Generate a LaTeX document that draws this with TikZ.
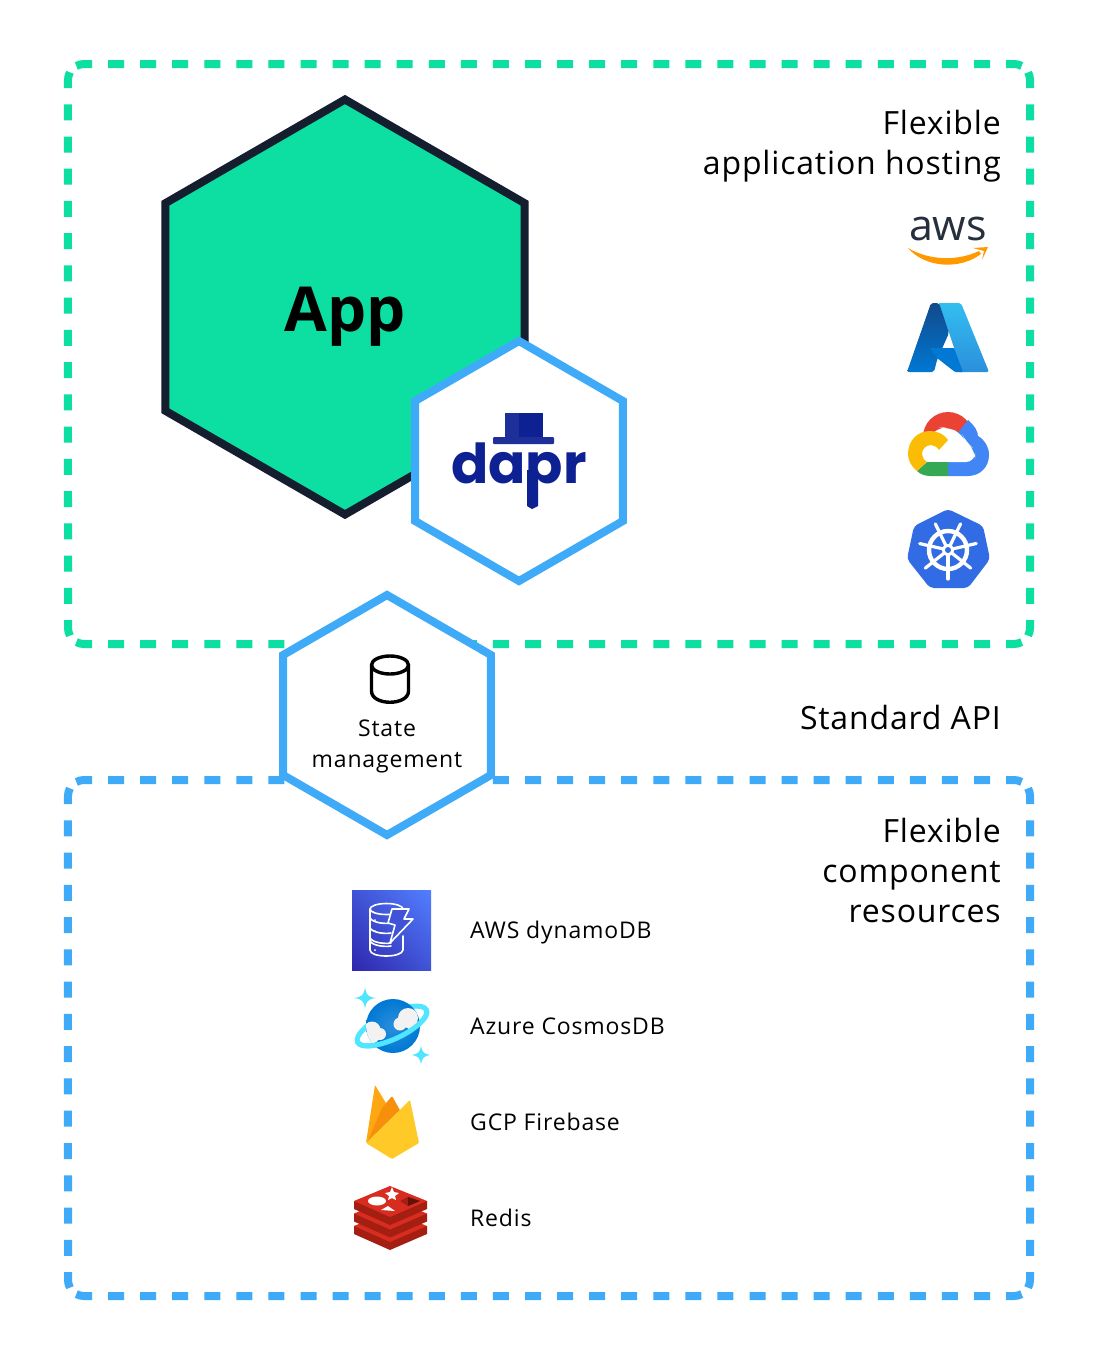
\documentclass[tikz,border=0pt]{standalone}
\usepackage{fontspec}
\usepackage{tikz}
\usetikzlibrary{shapes.geometric,shadings}
\setmainfont{Open Sans}
\newfontfamily\bigfont[LetterSpace=2.6]{Open Sans}
\newfontfamily\smallfont[LetterSpace=3.6]{Open Sans}
\newfontfamily\logofont{Poppins}

\definecolor{hostgreen}{HTML}{0DDFA2}
\definecolor{apiblue}{HTML}{3FAAF8}
\definecolor{appdark}{HTML}{141E2E}
\definecolor{daprblue}{HTML}{0D2192}
\definecolor{daprlight}{HTML}{1F2F9A}
\definecolor{awsdark}{HTML}{252F3E}
\definecolor{awsorange}{HTML}{FF9900}
\definecolor{gcpred}{HTML}{EA4335}
\definecolor{gcpblue}{HTML}{4285F4}
\definecolor{gcpyellow}{HTML}{FBBC05}
\definecolor{gcpgreen}{HTML}{34A853}
\definecolor{kubeblue}{HTML}{326CE5}
\definecolor{cosmoscyan}{HTML}{50E6FF}
\definecolor{cloudwhite}{HTML}{F2F2F2}
\definecolor{redisred}{HTML}{D82C20}
\definecolor{redisdark}{HTML}{A41E11}
\definecolor{azurelight}{HTML}{32BEF0}
\definecolor{azuresky}{HTML}{2B8FDC}
\definecolor{azuredark}{HTML}{114A8B}
\definecolor{azuremid}{HTML}{0078D4}
\definecolor{dynlow}{HTML}{2E27AD}
\definecolor{dynhigh}{HTML}{527FFF}
\definecolor{dynmid}{HTML}{4053D6}
\definecolor{fireamber}{HTML}{FFA712}
\definecolor{fireorange}{HTML}{F68F0B}
\definecolor{fireyellow}{HTML}{FFCA28}

\tikzset{
	hexnode/.style={shape=regular polygon,regular polygon sides=6,regular polygon rotate=30,inner sep=0pt,outer sep=0pt,line width=8pt},
	bigtext/.style={align=right,anchor=north east,inner sep=0pt,font=\bigfont\fontsize{32}{40}\selectfont,text=black},
	smalltext/.style={anchor=base west,inner sep=0pt,font=\smallfont\fontsize{23}{32}\selectfont,text=black},
}

% colour, top, bottom, gap along top and bottom, gap along the sides
\newcommand{\frameedges}[5]{
	\begin{scope}[draw=#1,line width=8pt]
		\draw[dash pattern=on 16pt off #4pt] (76.34,#2+1.95) arc[start angle=241.4,end angle=270,radius=16] -- (1014,#2) arc[start angle=270,end angle=298.6,radius=16];
		\draw[dash pattern=on 16pt off #4pt] (76.34,#3-1.95) arc[start angle=118.6,end angle=90,radius=16] -- (1014,#3) arc[start angle=90,end angle=61.4,radius=16];
		\draw[dash pattern=on 16pt off #5pt] (69.95,#2+8.34) arc[start angle=208.6,end angle=180,radius=16] -- (68,#3-16) arc[start angle=180,end angle=151.4,radius=16];
		\draw[dash pattern=on 16pt off #5pt] (1028.05,#2+8.34) arc[start angle=331.4,end angle=360,radius=16] -- (1030,#3-16) arc[start angle=0,end angle=28.6,radius=16];
	\end{scope}
}

\begin{document}
\begin{tikzpicture}[x=1pt,y=-1pt]
	\useasboundingbox (0,0) rectangle (1098,1358);
	\fill[white] (0,0) rectangle (1098,1358);

	\frameedges{hostgreen}{64}{644}{16.07}{16.235}
	\frameedges{apiblue}{780}{1296}{16.07}{16.27}

	\node[hexnode,draw=appdark,fill=hostgreen,minimum size=415pt] (AppHex) at (345,307){};
	\node[font=\bfseries\fontsize{62}{62}\selectfont,text=black] (AppText) at (345,317){App};
	\node[hexnode,draw=apiblue,fill=white,minimum size=240pt] (DaprHex) at (519,461){};
	\node[hexnode,draw=apiblue,fill=white,minimum size=240pt] (StateHex) at (387,715){};

	% dapr logo
	\node[anchor=base,inner sep=0pt,text=daprblue,font=\logofont\bfseries\fontsize{55}{55}\selectfont] (DaprWord) at (519,483){dapr};
	\fill[daprblue] (527,470) -- (538,470) -- (538,506) -- (532,509) -- (527,506) -- cycle;
	\fill[daprblue] (519,413) rectangle (543,438);
	\fill[daprlight] (505,413) rectangle (519,438);
	\fill[daprlight,rounded corners=1pt] (493,437) rectangle (554,444);

	% state store icon
	\draw[black,line width=3.4pt] (371.5,665) arc[start angle=180,end angle=-180,x radius=18.5,y radius=9] -- (371.5,691)
		.. controls (371.5,706) and (408.5,706) .. (408.5,691) -- (408.5,665);
	\node[align=center,font=\smallfont\fontsize{23}{31}\selectfont,text=black] (StateText) at (387,746){State\\management};

	\node[bigtext] (HostText) at (1001,110){Flexible\\application hosting};
	\node[bigtext,anchor=east] (ApiText) at (1001,717){Standard API};
	\node[bigtext] (ResText) at (1001,818){Flexible\\component\\resources};

	% aws
	\node[inner sep=0pt,text=awsdark,font=\fontsize{43}{43}\selectfont,anchor=base] (AwsWord) at (948,240){aws};
	\fill[awsorange] (908,248) .. controls (930,261) and (958,261) .. (979,251) -- (981,254) .. controls (960,270) and (925,268) .. cycle;
	\fill[awsorange] (973,248) -- (988,247) -- (982,260) -- (984,251) -- cycle;

	% azure
	\shade[top color=azurelight,bottom color=azuresky,rounded corners=2pt] (938,303) -- (961,303) -- (989,372) -- (957,372) -- (949,333) -- cycle;
	\fill[white] (949,333) -- (954,348) -- (930,348) -- (941,340) -- cycle;
	\shade[top color=azuredark,bottom color=azuremid,rounded corners=2pt] (931,303) -- (939,303) -- (949,333) -- (937,360) -- (934,372) -- (907,372) -- cycle;
	\fill[azuremid,rounded corners=1pt] (930,348) -- (954,348) -- (963,372) -- (955,372) -- (937,358) -- cycle;

	% gcp
	\fill[gcpred] (948,437) circle[radius=25];
	\fill[gcpblue] (968,420) .. controls (974,425) and (978,431) .. (978,436) .. controls (985,440) and (989,447) .. (989,455) .. controls (989,468) and (979,476) .. (968,476) -- (948,476) -- (948,445) -- cycle;
	\fill[white,rounded corners=9pt] (922,462) -- (922,445) -- (937,428) -- (948,427) -- (962,434) -- (966,442) -- (975,450) -- (975,462) -- cycle;
	\fill[gcpgreen] (917,471) -- (927,462) -- (948,462) -- (948,476) -- (930,476) .. controls (925,476) and (920,474) .. cycle;
	\fill[gcpyellow] (948,440) .. controls (944,434) and (937,431) .. (930,431) .. controls (917,431) and (908,441) .. (908,454) .. controls (908,461) and (912,467) .. (917,471) -- (927,462) .. controls (924,460) and (922,457) .. (922,454) .. controls (922,449) and (926,445) .. (931,445) .. controls (934,445) and (937,447) .. (939,450) -- cycle;

	% kubernetes
	\fill[kubeblue,rounded corners=4pt] (948,509) -- (983,526) -- (990,559) -- (968,588) -- (930,588) -- (907,559) -- (914,526) -- cycle;
	\draw[white,line width=4.4pt] (948,550) circle[radius=19];
	\foreach \ang in {90,141.4,192.8,244.2,295.6,347,38.6}
		\draw[white,line width=3.2pt,line cap=round] (948,550) -- ++(\ang:29);
	\fill[white] (948,550) circle[radius=6];
	\fill[kubeblue] (948,550) circle[radius=3];

	% dynamodb
	\shade[shading=bilinear interpolation,lower left=dynlow,lower right=dynmid,upper left=dynmid,upper right=dynhigh] (352,890) rectangle (431,970);
	\begin{scope}[white,line width=1.6pt,line cap=round,line join=round]
		\draw (370,909) arc[start angle=180,end angle=-180,x radius=16.5,y radius=5.5];
		\draw (370,909) -- (370,950) .. controls (370,958) and (402,958) .. (403,950) -- (403,936);
		\foreach \ypos in {918,928,938,941}
			\draw (370,\ypos) .. controls (373,\ypos+5) and (385,\ypos+6) .. (391,\ypos+5);
		\draw[fill=dynmid] (392,909) -- (409,909) -- (404,919) -- (413,919) -- (390,943) -- (395,925) -- (388,923) -- cycle;
		\fill (375,920) circle[radius=1] (375,931) circle[radius=1] (375,950) circle[radius=1];
	\end{scope}

	% cosmosdb
	\begin{scope}[shift={(392,1026)},rotate=25]
		\draw[cosmoscyan,line width=5pt] (0,0) ellipse[x radius=38,y radius=13];
	\end{scope}
	\shade[inner color=azuresky,outer color=azuremid] (393,1026) circle[radius=27];
	\begin{scope}
		\clip (393,1026) circle[radius=27];
		\fill[cloudwhite] (372,1030) circle[radius=8.5] (380,1034) circle[radius=6] (373,1037) circle[radius=6];
		\fill[cloudwhite] (408,1018) circle[radius=10] (400,1024) circle[radius=6.5] (412,1024) circle[radius=6];
	\end{scope}
	\begin{scope}[shift={(392,1026)},rotate=25]
		\draw[cosmoscyan,line width=5pt] (38,0) arc[start angle=0,end angle=180,x radius=38,y radius=13];
	\end{scope}
	\fill[cosmoscyan] (365,987) .. controls (366,995) and (368,997) .. (376,998) .. controls (368,999) and (366,1001) .. (365,1009) .. controls (364,1001) and (362,999) .. (354,998) .. controls (362,997) and (364,995) .. cycle;
	\fill[cosmoscyan] (421,1046) .. controls (422,1052) and (424,1054) .. (430,1055) .. controls (424,1056) and (422,1058) .. (421,1064) .. controls (420,1058) and (418,1056) .. (412,1055) .. controls (418,1054) and (420,1052) .. cycle;

	% firebase
	\fill[fireamber,rounded corners=1pt] (366,1143) -- (375,1085) -- (395,1118) -- cycle;
	\fill[fireorange,rounded corners=1pt] (367,1143) -- (382,1108) -- (392,1096) -- (401,1112) -- cycle;
	\fill[fireyellow,rounded corners=1pt] (366,1143) -- (410,1100) -- (419,1143) -- (392,1159) -- cycle;

	% redis
	\foreach \lift in {25,12.5,0}{
		\fill[redisdark] (354,1201+\lift) -- (354,1209+\lift) -- (390,1225+\lift) -- (427,1209+\lift) -- (427,1201+\lift) -- cycle;
		\fill[redisred] (390,1186+\lift) -- (427,1201+\lift) -- (390,1217+\lift) -- (354,1201+\lift) -- cycle;
	}
	\fill[white] (377,1201) ellipse[x radius=9,y radius=4.5];
	\fill[white] (388,1206) -- (395,1211) -- (381,1210) -- cycle;
	\fill[white] (392,1187) -- (394,1192) -- (399,1193) -- (395,1196) -- (396,1200) -- (392,1198) -- (388,1200) -- (389,1196) -- (385,1193) -- (390,1192) -- cycle;
	\fill[redisdark] (400,1201) -- (408,1197) -- (420,1201) -- (408,1206) -- cycle;
	\fill[redisdark!60!black] (408,1197) -- (420,1201) -- (408,1206) -- cycle;

	\node[smalltext] (DynamoText) at (470,938){AWS dynamoDB};
	\node[smalltext] (CosmosText) at (470,1034){Azure CosmosDB};
	\node[smalltext] (FirebaseText) at (470,1130){GCP Firebase};
	\node[smalltext] (RedisText) at (470,1226){Redis};
\end{tikzpicture}
\end{document}
